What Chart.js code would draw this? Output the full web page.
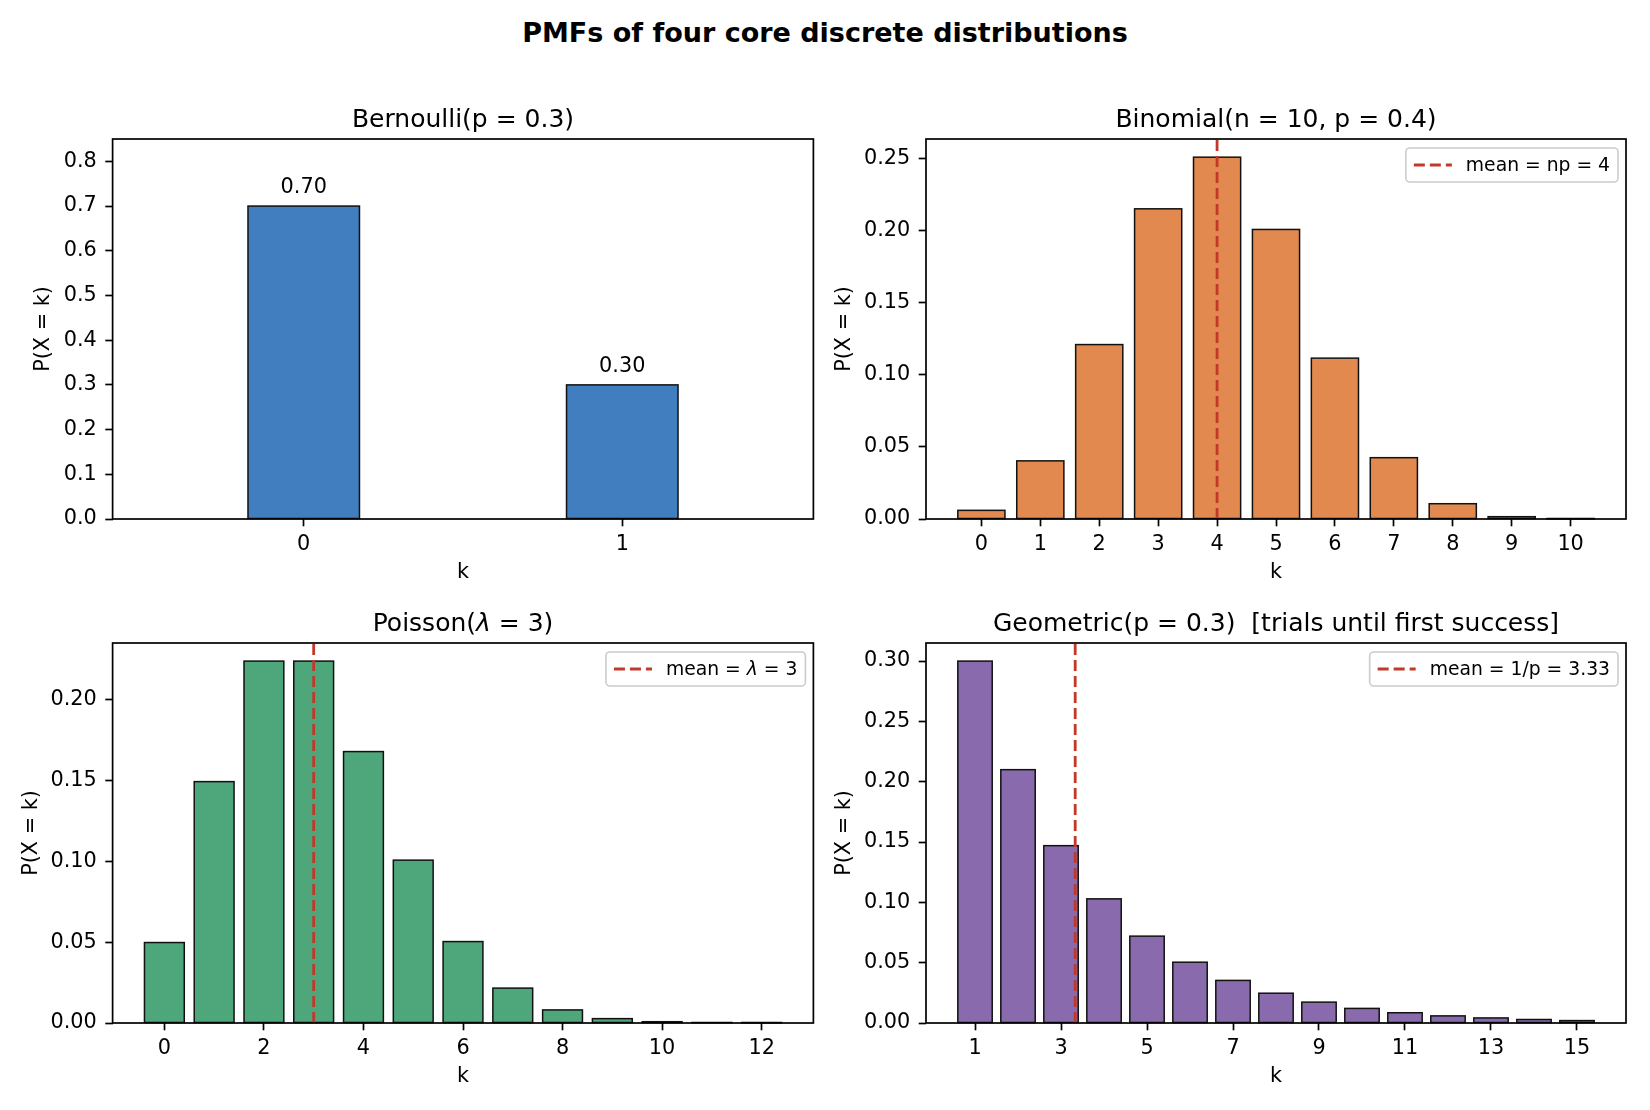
<!DOCTYPE html>
<html>
<head>
<meta charset="utf-8">
<script src="https://cdn.jsdelivr.net/npm/chart.js@4.4.1/dist/chart.umd.min.js"></script>
<style>
  body { margin: 0; background: #fff; }
  #fig { position: relative; width: 1650px; height: 1110px; overflow: hidden; }
  #suptitle {
    position: absolute; left: 0; top: 17px; width: 1650px; text-align: center;
    font: bold 27px 'DejaVu Sans', sans-serif; line-height: 32px; color: #000;
  }
  canvas { position: absolute; }
</style>
</head>
<body>
<div id="fig">
  <div id="suptitle">PMFs of four core discrete distributions</div>
  <canvas id="bern"></canvas>
  <canvas id="binom"></canvas>
  <canvas id="pois"></canvas>
  <canvas id="geom"></canvas>
</div>
<script>
// ---- data ----
const bernK = [0, 1];
const bernP = [0.70, 0.30];
const bernXTicks = [0, 1];
const bernYTicks = [0, 0.1, 0.2, 0.3, 0.4, 0.5, 0.6, 0.7, 0.8];

const binomK = [0, 1, 2, 3, 4, 5, 6, 7, 8, 9, 10];
const binomP = [0.0060, 0.0403, 0.1209, 0.2150, 0.2508, 0.2007, 0.1115, 0.0425, 0.0106, 0.0016, 0.0001];
const binomMean = 4;
const binomXTicks = [0, 1, 2, 3, 4, 5, 6, 7, 8, 9, 10];
const binomYTicks = [0, 0.05, 0.10, 0.15, 0.20, 0.25];

const poisK = [0, 1, 2, 3, 4, 5, 6, 7, 8, 9, 10, 11, 12];
const poisP = [0.0498, 0.1494, 0.2240, 0.2240, 0.1680, 0.1008, 0.0504, 0.0216, 0.0081, 0.0027, 0.0008, 0.0002, 0.0001];
const poisMean = 3;
const poisXTicks = [0, 2, 4, 6, 8, 10, 12];
const poisYTicks = [0, 0.05, 0.10, 0.15, 0.20];

const geomK = [1, 2, 3, 4, 5, 6, 7, 8, 9, 10, 11, 12, 13, 14, 15];
const geomP = [0.300, 0.210, 0.147, 0.1029, 0.0720, 0.0504, 0.0353, 0.0247, 0.0173, 0.0121, 0.0085, 0.0059, 0.0042, 0.0029, 0.0020];
const geomMean = 3.33;
const geomXTicks = [1, 3, 5, 7, 9, 11, 13, 15];
const geomYTicks = [0, 0.05, 0.10, 0.15, 0.20, 0.25, 0.30];

// ---- drawing helpers ----
const FONT = "'DejaVu Sans', sans-serif";
const TICK_PX = 20.8, TITLE_PX = 25, LEGEND_PX = 18.75;

function fontFor(s, size) {
  return (s === 'λ' ? 'italic ' : '') + size + 'px ' + FONT;
}
function measureMixed(ctx, text, size) {
  let w = 0;
  text.split(/(λ)/).filter(s => s.length).forEach(s => {
    ctx.font = fontFor(s, size);
    w += ctx.measureText(s).width;
  });
  return w;
}
function drawMixed(ctx, text, x, y, size, align) {
  const total = measureMixed(ctx, text, size);
  let cx = align === 'center' ? x - total / 2 : x;
  ctx.textAlign = 'left';
  text.split(/(λ)/).filter(s => s.length).forEach(s => {
    ctx.font = fontFor(s, size);
    ctx.fillText(s, cx, y);
    cx += ctx.measureText(s).width;
  });
}

const panelDecor = {
  id: 'panelDecor',
  // bar edges centred on the bar outline, so near-zero bars still show a line
  afterDatasetDraw(chart, args) {
    if (args.index !== 0) return;
    const ctx = chart.ctx;
    ctx.save();
    ctx.strokeStyle = '#111';
    ctx.lineWidth = 1.5;
    args.meta.data.forEach(bar => {
      const p = bar.getProps(['x', 'y', 'base', 'width'], true);
      ctx.strokeRect(p.x - p.width / 2, p.y, p.width, p.base - p.y);
    });
    ctx.restore();
  },
  afterDraw(chart, args, opts) {
    const {ctx, chartArea: a} = chart;
    ctx.save();
    ctx.fillStyle = '#000';
    ctx.textBaseline = 'alphabetic';

    if (opts.barLabels) {
      chart.getDatasetMeta(0).data.forEach((bar, i) => {
        drawMixed(ctx, opts.barLabels[i], bar.x, bar.y - 13, TICK_PX, 'center');
      });
    }

    // axes frame
    ctx.strokeStyle = '#000';
    ctx.lineWidth = 1.7;
    ctx.strokeRect(a.left, a.top, a.right - a.left, a.bottom - a.top);

    // subplot title
    ctx.fillStyle = '#000';
    drawMixed(ctx, opts.title, (a.left + a.right) / 2, a.top - 12.5, TITLE_PX, 'center');

    // legend, upper right
    const ds = chart.data.datasets.find(d => d.type === 'line');
    if (ds) {
      const tw = measureMixed(ctx, ds.label, LEGEND_PX);
      const w = 8 + 38 + 14 + tw + 8, h = 34;
      const x0 = a.right - 8 - w, y0 = a.top + 9;
      ctx.beginPath();
      ctx.roundRect(x0, y0, w, h, 4);
      ctx.fillStyle = 'rgba(255,255,255,0.8)';
      ctx.fill();
      ctx.strokeStyle = '#cccccc';
      ctx.lineWidth = 1.6;
      ctx.stroke();

      ctx.beginPath();
      ctx.setLineDash(ds.borderDash);
      ctx.strokeStyle = ds.borderColor;
      ctx.lineWidth = ds.borderWidth;
      ctx.moveTo(x0 + 8, y0 + h / 2);
      ctx.lineTo(x0 + 46, y0 + h / 2);
      ctx.stroke();
      ctx.setLineDash([]);

      ctx.fillStyle = '#000';
      drawMixed(ctx, ds.label, x0 + 60, y0 + h / 2 + 6.3, LEGEND_PX, 'left');
    }
    ctx.restore();
  }
};

function makePanel(id, cfg) {
  const cv = document.getElementById(id);
  const b = cfg.box, a = cfg.area;
  cv.width = b.w; cv.height = b.h;
  cv.style.left = b.x + 'px';
  cv.style.top = b.y + 'px';

  const datasets = [{
    type: 'bar',
    data: cfg.k.map((k, i) => ({x: k, y: cfg.p[i]})),
    backgroundColor: cfg.color,
    borderWidth: 0,
    categoryPercentage: 1,
    barPercentage: cfg.barWidth,
    order: 2
  }];
  if (cfg.mean !== undefined) {
    datasets.push({
      type: 'line',
      label: cfg.meanLabel,
      data: [{x: cfg.mean, y: cfg.yRange[0]}, {x: cfg.mean, y: cfg.yRange[1]}],
      borderColor: '#c0392b',
      borderWidth: 2.8,
      borderDash: [11, 5],
      pointRadius: 0,
      order: 0
    });
  }

  const tickFont = {family: FONT, size: TICK_PX};
  const gridOpts = {
    offset: false, drawOnChartArea: false, drawTicks: true,
    tickLength: 7.3, tickWidth: 1.7, tickColor: '#000'
  };

  new Chart(cv, {
    type: 'bar',
    data: {datasets},
    options: {
      responsive: false,
      devicePixelRatio: 1,
      animation: false,
      layout: {padding: {left: 0, top: a.t - b.y, right: b.x + b.w - a.r, bottom: 0}},
      plugins: {
        legend: {display: false},
        tooltip: {enabled: false},
        panelDecor: {title: cfg.title, barLabels: cfg.barLabels}
      },
      scales: {
        x: {
          type: 'linear',
          min: cfg.xRange[0], max: cfg.xRange[1],
          bounds: 'data',
          offset: false,
          grid: gridOpts,
          border: {display: false},
          ticks: {font: tickFont, color: '#000', padding: 6, maxRotation: 0, autoSkip: false,
                  callback: v => String(v)},
          afterBuildTicks: s => { s.ticks = cfg.xTicks.map(v => ({value: v})); },
          afterFit: s => { s.height = b.y + b.h - a.b; },
          title: {display: true, text: 'k', color: '#000', font: tickFont,
                  padding: {top: 0, bottom: cfg.xTitlePad}}
        },
        y: {
          type: 'linear',
          min: cfg.yRange[0], max: cfg.yRange[1],
          bounds: 'data',
          grid: gridOpts,
          border: {display: false},
          ticks: {font: tickFont, color: '#000', padding: 8.5,
                  callback: v => Number(v).toFixed(cfg.yDecimals)},
          afterBuildTicks: s => { s.ticks = cfg.yTicks.map(v => ({value: v})); },
          afterFit: s => { s.width = a.l - b.x; },
          title: {display: true, text: 'P(X = k)', color: '#000', font: tickFont,
                  padding: {top: cfg.yTitlePad, bottom: 0}}
        }
      }
    },
    plugins: [panelDecor]
  });
}

makePanel('bern', {
  k: bernK, p: bernP, color: '#417ec0', barWidth: 0.35,
  title: 'Bernoulli(p = 0.3)',
  barLabels: bernP.map(v => v.toFixed(2)),
  xRange: [-0.6, 1.6], yRange: [0, 0.85],
  xTicks: bernXTicks, yTicks: bernYTicks, yDecimals: 1,
  box: {x: 0, y: 60, w: 825, h: 530},
  area: {l: 112.6, t: 139, r: 813.4, b: 519},
  xTitlePad: 5, yTitlePad: 31.5
});

makePanel('binom', {
  k: binomK, p: binomP, color: '#e1894e', barWidth: 0.8,
  title: 'Binomial(n = 10, p = 0.4)',
  mean: binomMean, meanLabel: 'mean = np = ' + binomMean,
  xRange: [-0.94, 10.94], yRange: [0, 0.2634],
  xTicks: binomXTicks, yTicks: binomYTicks, yDecimals: 2,
  box: {x: 825, y: 60, w: 825, h: 530},
  area: {l: 926, t: 139, r: 1626, b: 519},
  xTitlePad: 5, yTitlePad: 7.5
});

makePanel('pois', {
  k: poisK, p: poisP, color: '#4ea67b', barWidth: 0.8,
  title: 'Poisson(λ = 3)',
  mean: poisMean, meanLabel: 'mean = λ = ' + poisMean,
  xRange: [-1.04, 13.04], yRange: [0, 0.2352],
  xTicks: poisXTicks, yTicks: poisYTicks, yDecimals: 2,
  box: {x: 0, y: 590, w: 825, h: 520},
  area: {l: 112.6, t: 643, r: 813.4, b: 1023},
  xTitlePad: 21, yTitlePad: 19
});

makePanel('geom', {
  k: geomK, p: geomP, color: '#896bad', barWidth: 0.8,
  title: 'Geometric(p = 0.3)  [trials until first success]',
  mean: geomMean, meanLabel: 'mean = 1/p = ' + geomMean.toFixed(2),
  xRange: [-0.14, 16.14], yRange: [0, 0.315],
  xTicks: geomXTicks, yTicks: geomYTicks, yDecimals: 2,
  box: {x: 825, y: 590, w: 825, h: 520},
  area: {l: 926, t: 643, r: 1626, b: 1023},
  xTitlePad: 21, yTitlePad: 7.5
});
</script>
</body>
</html>
